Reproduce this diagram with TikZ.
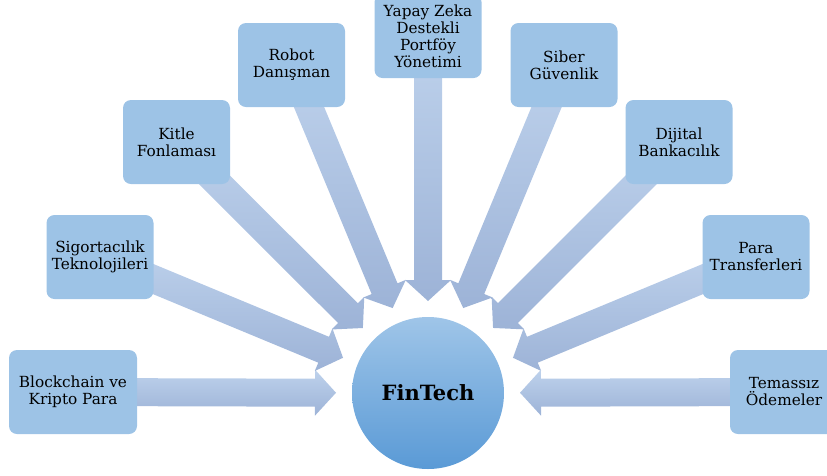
\documentclass[tikz,border=0pt]{standalone}
\usepackage{fontspec}
\setmainfont{DejaVu Serif}
\usetikzlibrary{calc}
\pgfdeclarelayer{background}
\pgfsetlayers{background,main}
\definecolor{boxblue}{HTML}{9DC3E6}
\definecolor{arrowtop}{HTML}{BED2EC}
\definecolor{arrowbot}{HTML}{9DB3D7}
\definecolor{disctop}{HTML}{9FC5E8}
\definecolor{discbot}{HTML}{5A9AD6}
\tikzset{
  item/.style={rectangle, rounded corners=8pt, fill=boxblue, minimum width=107pt,
    minimum height=84pt, align=center, inner sep=2pt,
    font=\fontsize{15.3}{17}\selectfont},
  hub/.style={circle, minimum size=152pt, top color=disctop, bottom color=discbot,
    font=\fontsize{21}{24}\selectfont\bfseries},
  flow/.style={top color=arrowtop, bottom color=arrowbot}
}
\begin{document}
\begin{tikzpicture}[x=1pt,y=-1pt]
        \def\reach{92pt}
        \def\shaft{14pt}
        \def\head{23pt}
        \useasboundingbox (0,0) rectangle (827,475);
        \node[hub] (fin) at (428,393) {FinTech};
        \node[item, minimum width=128pt] (blk) at (73,392) {Blockchain ve\\Kripto Para};
        \node[item] (sig) at (100,257) {Sigortacılık\\Teknolojileri};
        \node[item] (kit) at (176.5,142) {Kitle\\Fonlaması};
        \node[item] (rob) at (291.5,65) {Robot\\Danışman};
        \node[item] (yap) at (428,36) {Yapay Zeka\\Destekli\\Portföy\\Yönetimi};
        \node[item] (sib) at (564,65) {Siber\\Güvenlik};
        \node[item] (dij) at (679,142) {Dijital\\Bankacılık};
        \node[item] (par) at (756,257) {Para\\Transferleri};
        \node[item, minimum width=108pt] (tem) at (784,392) {Temassız\\Ödemeler};
        \begin{pgfonlayer}{background}
          \foreach \b in {blk,sig,kit,rob,yap,sib,dij,par,tem} {
            \coordinate (tip) at ($(fin)!\reach!(\b)$);
            \coordinate (neck) at ($(tip)!21pt!(\b)$);
            \shade[flow] ($(\b)!\shaft!90:(tip)$) -- ($(neck)!\shaft!90:(tip)$)
              -- ($(neck)!\head!90:(tip)$) -- (tip) -- ($(neck)!\head!-90:(tip)$)
              -- ($(neck)!\shaft!-90:(tip)$) -- ($(\b)!\shaft!-90:(tip)$) -- cycle;
          }
        \end{pgfonlayer}
      \end{tikzpicture}
\end{document}
